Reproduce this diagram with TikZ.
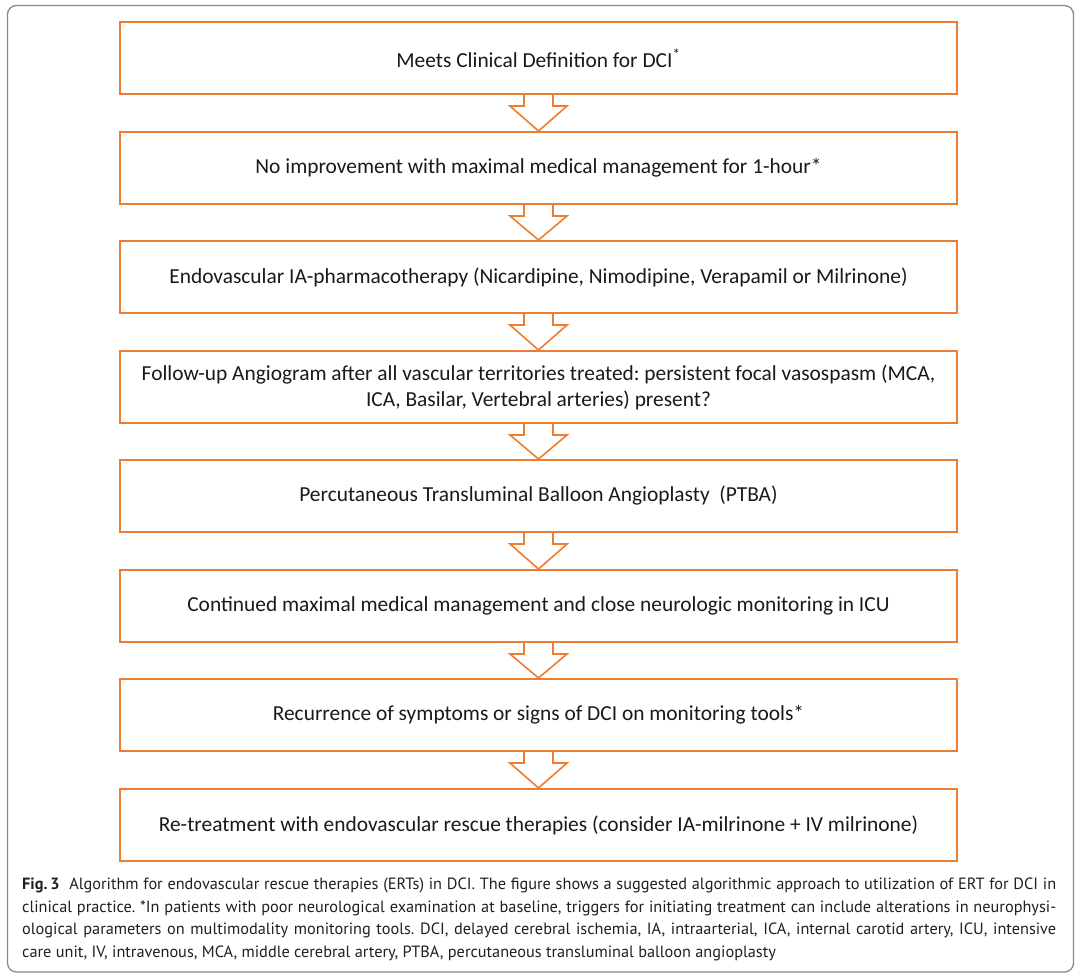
\documentclass[tikz,border=0pt]{standalone}
\usepackage{fontspec}
\setmainfont{Carlito}
\newfontfamily\capfont{PT Sans}
\usetikzlibrary{calc}
\definecolor{boxorange}{HTML}{ED7D31}
\definecolor{txtdark}{HTML}{1A1A1A}
\definecolor{capgray}{HTML}{231F20}
\definecolor{framegray}{HTML}{8A8A8A}
\tikzset{
  stepbox/.style={draw=boxorange, line width=2pt, fill=white, minimum width=837pt, minimum height=72pt,
    inner sep=0pt, text=txtdark, font=\fontsize{21.4}{26}\selectfont, align=center},
  flowarrow/.style={draw=boxorange, line width=1.6pt, line join=miter},
}
\newcommand{\flowdown}[2]{%
  \fill[white] ($(#1.south)+(-14.5,1)$) -- ($(#1.south)+(-14.5,11)$) -- ($(#1.south)+(-28.5,11)$)
     -- (#2.north) -- ($(#1.south)+(28.5,11)$) -- ($(#1.south)+(14.5,11)$) -- ($(#1.south)+(14.5,1)$) -- cycle;
  \draw[flowarrow] ($(#1.south)+(-14.5,0)$) -- ($(#1.south)+(-14.5,11)$) -- ($(#1.south)+(-28.5,11)$)
     -- (#2.north) -- ($(#1.south)+(28.5,11)$) -- ($(#1.south)+(14.5,11)$) -- ($(#1.south)+(14.5,0)$);
}
\begin{document}
\frenchspacing
\begin{tikzpicture}[x=1pt, y=-1pt]
\useasboundingbox (0,0) rectangle (1080,978);
\fill[white] (0,0) rectangle (1080,978);
\draw[framegray, line width=1.3pt, rounded corners=9pt] (7.5,5.5) rectangle (1073.5,972);

\node[stepbox] (b1) at (538.5,58) {Meets Clinical Definition for DCI\textsuperscript{*}};
\node[stepbox] (b2) at (538.5,168) {No improvement with maximal medical management for 1-hour*};
\node[stepbox] (b3) at (538.5,277) {Endovascular IA-pharmacotherapy (Nicardipine, Nimodipine, Verapamil or Milrinone)};
\node[stepbox] (b4) at (538.5,387) {Follow-up Angiogram after all vascular territories treated: persistent focal vasospasm (MCA,\\ICA, Basilar, Vertebral arteries) present?};
\node[stepbox] (b5) at (538.5,496) {Percutaneous Transluminal Balloon Angioplasty\ \ (PTBA)};
\node[stepbox] (b6) at (538.5,606) {Continued maximal medical management and close neurologic monitoring in ICU};
\node[stepbox] (b7) at (538.5,715) {Recurrence of symptoms or signs of DCI on monitoring tools*};
\node[stepbox] (b8) at (538.5,825) {Re-treatment with endovascular rescue therapies (consider IA-milrinone + IV milrinone)};

\flowdown{b1}{b2}
\flowdown{b2}{b3}
\flowdown{b3}{b4}
\flowdown{b4}{b5}
\flowdown{b5}{b6}
\flowdown{b6}{b7}
\flowdown{b7}{b8}

\node[anchor=north west, inner sep=0pt, text width=1034pt, align=justify, text=capgray,
  font=\capfont\fontsize{16.3}{22.4}\selectfont] (cap) at (22,878)
{\textbf{Fig.\,3}\hspace{0.6em}Algorithm for endovascular rescue therapies (ERTs) in DCI. The figure shows a suggested algorithmic approach to utilization of ERT for DCI in\linebreak
clinical practice. *In patients with poor neurological examination at baseline, triggers for initiating treatment can include alterations in neurophysi-\linebreak
ological parameters on multimodality monitoring tools. DCI, delayed cerebral ischemia, IA, intraarterial, ICA, internal carotid artery, ICU, intensive\linebreak
care unit, IV, intravenous, MCA, middle cerebral artery, PTBA, percutaneous transluminal balloon angioplasty};
\end{tikzpicture}
\end{document}
